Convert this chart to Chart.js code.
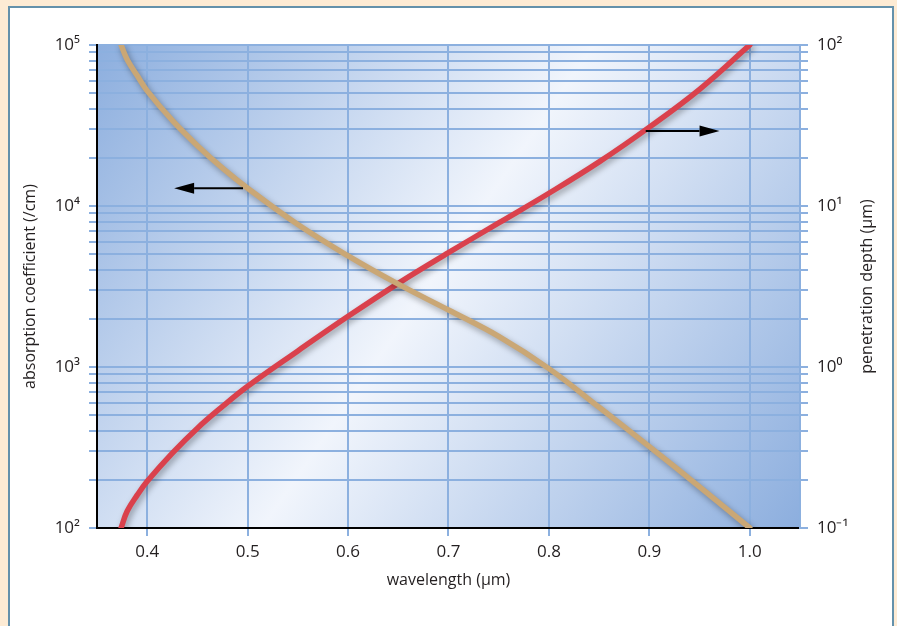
<!DOCTYPE html>
<html>
<head>
<meta charset="utf-8">
<script src="https://cdn.jsdelivr.net/npm/chart.js@4.4.1/dist/chart.umd.min.js"></script>
<style>
  html, body { margin: 0; padding: 0; background: #fdebd4; }
  body { width: 897px; height: 626px; position: relative; overflow: hidden; }
  #frame { position: absolute; left: 8px; top: 6px; width: 882px; height: 640px; background: #fff; border: 2px solid #6491ab; }
  #myChart { position: absolute; left: 0; top: 0; }
</style>
</head>
<body>
<div id="frame"></div>
<canvas id="myChart" width="897" height="626"></canvas>
<script>
// absorption coefficient (/cm), read on the left axis
const absWavelength = [0.374, 0.38, 0.39, 0.40, 0.425, 0.45, 0.475, 0.50, 0.55, 0.60, 0.65, 0.70, 0.75, 0.80, 0.85, 0.90, 0.95, 1.00];
const absorption    = [100000, 81300, 64600, 51900, 34000, 23700, 17200, 12900, 7670, 4900, 3270, 2260, 1550, 977, 562, 320, 180, 100];

// penetration depth (um), read on the right axis
const depthWavelength = [0.374, 0.38, 0.39, 0.40, 0.425, 0.45, 0.475, 0.50, 0.55, 0.60, 0.65, 0.70, 0.75, 0.80, 0.85, 0.90, 0.95, 1.00];
const penetration     = [0.1, 0.127, 0.160, 0.195, 0.292, 0.417, 0.569, 0.759, 1.259, 2.065, 3.31, 5.13, 7.85, 12.0, 18.8, 30.9, 53.1, 100];

// axis ticks
const xTicks = [0.4, 0.5, 0.6, 0.7, 0.8, 0.9, 1.0];
const absDecades = [100, 1000, 10000, 100000];
const absDecadeLabels = ['10²', '10³', '10⁴', '10⁵'];
const depthDecades = [0.1, 1, 10, 100];
const depthDecadeLabels = ['10⁻¹', '10⁰', '10¹', '10²'];

// the two arrows pointing at each curve's axis: [x from, x to, y value]
const arrowToLeft = [0.4954, 0.4268, 12900];
const arrowToRight = [0.8964, 0.9699, 29.2];

const gridBlue = '#8cb0df';
const textColor = '#231f20';
const tickFont = { family: 'Open Sans', size: 17 };
const titleFont = { family: 'Open Sans', size: 16 };

// minor log ticks 1..9 in each decade
function logTicks(decades) {
    const out = [];
    decades.forEach((d, i) => {
        if (i === decades.length - 1) { out.push(d); return; }
        for (let k = 1; k <= 9; k++) out.push(+(d * k).toPrecision(3));
    });
    return out;
}

// plot-area background gradient
const backgroundPlugin = {
    id: 'plotBackground',
    beforeDraw(chart) {
        const { ctx, chartArea: a } = chart;
        const g = ctx.createLinearGradient(a.left, a.top, a.right, a.bottom);
        g.addColorStop(0, '#8caede');
        g.addColorStop(0.48, '#f1f5fc');
        g.addColorStop(1, '#8caede');
        ctx.save();
        ctx.fillStyle = g;
        ctx.fillRect(a.left, a.top, a.right - a.left, a.bottom - a.top);
        ctx.restore();
    }
};

// soft drop shadow under the curves
const shadowPlugin = {
    id: 'lineShadow',
    beforeDatasetDraw(chart) {
        const ctx = chart.ctx;
        ctx.save();
        ctx.shadowColor = 'rgba(0,0,0,0.35)';
        ctx.shadowBlur = 6;
        ctx.shadowOffsetX = 2;
        ctx.shadowOffsetY = 3;
    },
    afterDatasetDraw(chart) {
        chart.ctx.restore();
    }
};

function drawArrow(ctx, x1, x2, y) {
    const dir = Math.sign(x2 - x1);
    const headLen = 20, headHalf = 5.5;
    ctx.beginPath();
    ctx.moveTo(x1, y);
    ctx.lineTo(x2 - dir * headLen, y);
    ctx.stroke();
    ctx.beginPath();
    ctx.moveTo(x2, y);
    ctx.lineTo(x2 - dir * headLen, y - headHalf);
    ctx.lineTo(x2 - dir * headLen, y + headHalf);
    ctx.closePath();
    ctx.fill();
}

// arrows + right axis title (reads bottom to top, like the left one)
const annotationPlugin = {
    id: 'annotations',
    afterDraw(chart) {
        const { ctx, scales, chartArea: a } = chart;
        ctx.save();
        ctx.strokeStyle = '#000';
        ctx.fillStyle = '#000';
        ctx.lineWidth = 2;
        drawArrow(ctx, scales.x.getPixelForValue(arrowToLeft[0]), scales.x.getPixelForValue(arrowToLeft[1]), scales.y.getPixelForValue(arrowToLeft[2]));
        drawArrow(ctx, scales.x.getPixelForValue(arrowToRight[0]), scales.x.getPixelForValue(arrowToRight[1]), scales.y1.getPixelForValue(arrowToRight[2]));

        ctx.translate(867, (a.top + a.bottom) / 2);
        ctx.rotate(-Math.PI / 2);
        ctx.fillStyle = textColor;
        ctx.font = titleFont.size + 'px "' + titleFont.family + '"';
        ctx.textAlign = 'center';
        ctx.textBaseline = 'middle';
        ctx.fillText('penetration depth (μm)', 0, 0);
        ctx.restore();
    }
};

const absPoints = absWavelength.map((x, i) => ({ x: x, y: absorption[i] }));
const depthPoints = depthWavelength.map((x, i) => ({ x: x, y: penetration[i] }));

const ctx = document.getElementById('myChart').getContext('2d');
const myChart = new Chart(ctx, {
    type: 'line',
    data: {
        datasets: [{
            label: 'absorption coefficient',
            data: absPoints,
            yAxisID: 'y',
            borderColor: '#caa775',
            borderWidth: 5.5,
            borderCapStyle: 'round',
            tension: 0.4,
            pointRadius: 0,
            order: 0
        }, {
            label: 'penetration depth',
            data: depthPoints,
            yAxisID: 'y1',
            borderColor: '#da414c',
            borderWidth: 5.5,
            borderCapStyle: 'round',
            tension: 0.4,
            pointRadius: 0,
            order: 1
        }]
    },
    options: {
        responsive: false,
        animation: false,
        events: [],
        layout: { padding: { left: 0, right: 0, top: 45, bottom: 0 } },
        plugins: { legend: { display: false }, tooltip: { enabled: false } },
        scales: {
            x: {
                type: 'linear',
                min: 0.35,
                max: 1.05,
                afterBuildTicks: s => { s.ticks = xTicks.map(v => ({ value: v })); },
                afterFit: s => { s.height = 98; },
                grid: { color: gridBlue, lineWidth: 2, tickLength: 8 },
                border: { color: '#000', width: 2 },
                ticks: {
                    autoSkip: false, maxRotation: 0, padding: 6,
                    color: textColor, font: tickFont,
                    callback: v => v.toFixed(1)
                },
                title: { display: true, text: 'wavelength (μm)', color: textColor, font: titleFont, padding: { top: 4, bottom: 36 } }
            },
            y: {
                type: 'logarithmic',
                position: 'left',
                min: 100,
                max: 100000,
                afterBuildTicks: s => { s.ticks = logTicks(absDecades).map(v => ({ value: v })); },
                afterFit: s => { s.width = 97; },
                grid: { color: gridBlue, lineWidth: 2, tickLength: 8 },
                border: { color: '#000', width: 2 },
                ticks: {
                    autoSkip: false, padding: 9, color: textColor, font: tickFont,
                    callback: v => { const i = absDecades.indexOf(v); return i >= 0 ? absDecadeLabels[i] : ''; }
                },
                title: { display: true, text: 'absorption coefficient (/cm)', color: textColor, font: titleFont, padding: { top: 21, bottom: 0 } }
            },
            y1: {
                type: 'logarithmic',
                position: 'right',
                min: 0.1,
                max: 100,
                afterBuildTicks: s => { s.ticks = logTicks(depthDecades).map(v => ({ value: v })); },
                afterFit: s => { s.width = 97; },
                grid: { color: gridBlue, lineWidth: 2, tickLength: 8, drawOnChartArea: false },
                border: { color: gridBlue, width: 2 },
                ticks: {
                    autoSkip: false, padding: 9, color: textColor, font: tickFont,
                    callback: v => { const i = depthDecades.indexOf(v); return i >= 0 ? depthDecadeLabels[i] : ''; }
                }
            }
        }
    },
    plugins: [backgroundPlugin, shadowPlugin, annotationPlugin]
});
</script>
</body>
</html>
